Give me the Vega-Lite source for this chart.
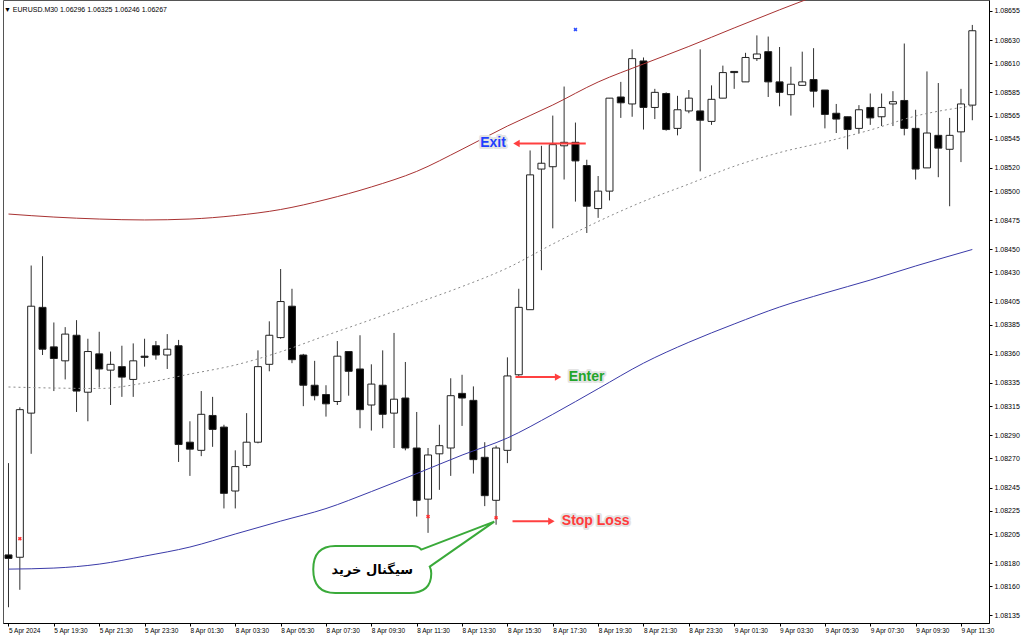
{
  "$schema": "https://vega.github.io/schema/vega-lite/v6.json",
  "width": 986,
  "height": 623,
  "autosize": {"type": "none"},
  "padding": {"left": 3, "top": 0, "right": 35, "bottom": 16},
  "background": "white",
  "config": {
    "view": {"stroke": "#555", "strokeWidth": 1},
    "axis": {"grid": false, "domainColor": "#000", "tickColor": "#000", "labelColor": "#000", "labelFont": "Liberation Sans", "labelOverlap": false, "labelFlush": false, "labelBound": false}
  },
  "title": {
    "text": "▼  EURUSD.M30  1.06296 1.06325 1.06246 1.06267",
    "anchor": "start",
    "frame": "group",
    "offset": -11,
    "baseline": "alphabetic",
    "font": "Liberation Sans",
    "fontSize": 7,
    "fontWeight": "normal",
    "color": "#000",
    "dx": 1,
    "dy": 8
  },
  "datasets": {
    "candles": [
      {"i":0,"o":1.08187,"h":1.08266,"l":1.08142,"c":1.08184},
      {"i":1,"o":1.08185,"h":1.08314,"l":1.08157,"c":1.08312},
      {"i":2,"o":1.08309,"h":1.08436,"l":1.08274,"c":1.08401},
      {"i":3,"o":1.08400,"h":1.08444,"l":1.08359,"c":1.08364},
      {"i":4,"o":1.08366,"h":1.08387,"l":1.08328,"c":1.08356},
      {"i":5,"o":1.08354,"h":1.08383,"l":1.08338,"c":1.08377},
      {"i":6,"o":1.08376,"h":1.08389,"l":1.08310,"c":1.08328},
      {"i":7,"o":1.08327,"h":1.08373,"l":1.08302,"c":1.08362},
      {"i":8,"o":1.08360,"h":1.08379,"l":1.08331,"c":1.08347},
      {"i":9,"o":1.08346,"h":1.08362,"l":1.08316,"c":1.08351},
      {"i":10,"o":1.08349,"h":1.08367,"l":1.08323,"c":1.08340},
      {"i":11,"o":1.08338,"h":1.08369,"l":1.08323,"c":1.08354},
      {"i":12,"o":1.08358,"h":1.08373,"l":1.08349,"c":1.08357},
      {"i":13,"o":1.08367,"h":1.08371,"l":1.08355,"c":1.08359},
      {"i":14,"o":1.08359,"h":1.08377,"l":1.08347,"c":1.08364},
      {"i":15,"o":1.08367,"h":1.08372,"l":1.08267,"c":1.08282},
      {"i":16,"o":1.08284,"h":1.08302,"l":1.08255,"c":1.08278},
      {"i":17,"o":1.08277,"h":1.08328,"l":1.08272,"c":1.08308},
      {"i":18,"o":1.08307,"h":1.08323,"l":1.08280,"c":1.08295},
      {"i":19,"o":1.08297,"h":1.08299,"l":1.08227,"c":1.08240},
      {"i":20,"o":1.08242,"h":1.08277,"l":1.08227,"c":1.08263},
      {"i":21,"o":1.08264,"h":1.08309,"l":1.08262,"c":1.08284},
      {"i":22,"o":1.08284,"h":1.08363,"l":1.08283,"c":1.08349},
      {"i":23,"o":1.08351,"h":1.08388,"l":1.08345,"c":1.08376},
      {"i":24,"o":1.08374,"h":1.08433,"l":1.08373,"c":1.08405},
      {"i":25,"o":1.08401,"h":1.08416,"l":1.08352,"c":1.08355},
      {"i":26,"o":1.08359,"h":1.08360,"l":1.08315,"c":1.08333},
      {"i":27,"o":1.08333,"h":1.08354,"l":1.08320,"c":1.08324},
      {"i":28,"o":1.08325,"h":1.08333,"l":1.08306,"c":1.08317},
      {"i":29,"o":1.08319,"h":1.08371,"l":1.08316,"c":1.08358},
      {"i":30,"o":1.08362,"h":1.08362,"l":1.08324,"c":1.08345},
      {"i":31,"o":1.08347,"h":1.08376,"l":1.08296,"c":1.08312},
      {"i":32,"o":1.08316,"h":1.08351,"l":1.08294,"c":1.08334},
      {"i":33,"o":1.08333,"h":1.08363,"l":1.08296,"c":1.08308},
      {"i":34,"o":1.08309,"h":1.08378,"l":1.08279,"c":1.08321},
      {"i":35,"o":1.08322,"h":1.08353,"l":1.08277,"c":1.08279},
      {"i":36,"o":1.08279,"h":1.08310,"l":1.08220,"c":1.08234},
      {"i":37,"o":1.08235,"h":1.08279,"l":1.08206,"c":1.08273},
      {"i":38,"o":1.08274,"h":1.08299,"l":1.08243,"c":1.08281},
      {"i":39,"o":1.08279,"h":1.08339,"l":1.08255,"c":1.08324},
      {"i":40,"o":1.08326,"h":1.08342,"l":1.08298,"c":1.08322},
      {"i":41,"o":1.08320,"h":1.08332,"l":1.08257,"c":1.08269},
      {"i":42,"o":1.08271,"h":1.08284,"l":1.08229,"c":1.08238},
      {"i":43,"o":1.08234,"h":1.08281,"l":1.08213,"c":1.08279},
      {"i":44,"o":1.08277,"h":1.08357,"l":1.08266,"c":1.08341},
      {"i":45,"o":1.08342,"h":1.08416,"l":1.08341,"c":1.08400},
      {"i":46,"o":1.08398,"h":1.08535,"l":1.08398,"c":1.08514},
      {"i":47,"o":1.08519,"h":1.08539,"l":1.08432,"c":1.08524},
      {"i":48,"o":1.08521,"h":1.08565,"l":1.08468,"c":1.08540},
      {"i":49,"o":1.08539,"h":1.08590,"l":1.08510,"c":1.08542},
      {"i":50,"o":1.08542,"h":1.08559,"l":1.08491,"c":1.08526},
      {"i":51,"o":1.08522,"h":1.08527,"l":1.08464,"c":1.08487},
      {"i":52,"o":1.08485,"h":1.08513,"l":1.08477,"c":1.08500},
      {"i":53,"o":1.08500,"h":1.08580,"l":1.08492,"c":1.08580},
      {"i":54,"o":1.08581,"h":1.08594,"l":1.08563,"c":1.08576},
      {"i":55,"o":1.08575,"h":1.08622,"l":1.08564,"c":1.08614},
      {"i":56,"o":1.08612,"h":1.08615,"l":1.08553,"c":1.08572},
      {"i":57,"o":1.08572,"h":1.08588,"l":1.08562,"c":1.08585},
      {"i":58,"o":1.08584,"h":1.08585,"l":1.08552,"c":1.08553},
      {"i":59,"o":1.08554,"h":1.08582,"l":1.08548,"c":1.08570},
      {"i":60,"o":1.08569,"h":1.08587,"l":1.08567,"c":1.08580},
      {"i":61,"o":1.08569,"h":1.08622,"l":1.08517,"c":1.08561},
      {"i":62,"o":1.08560,"h":1.08591,"l":1.08557,"c":1.08579},
      {"i":63,"o":1.08580,"h":1.08608,"l":1.08580,"c":1.08602},
      {"i":64,"o":1.08603,"h":1.08603,"l":1.08588,"c":1.08602},
      {"i":65,"o":1.08594,"h":1.08619,"l":1.08594,"c":1.08615},
      {"i":66,"o":1.08614,"h":1.08634,"l":1.08612,"c":1.08618},
      {"i":67,"o":1.08620,"h":1.08633,"l":1.08581,"c":1.08594},
      {"i":68,"o":1.08594,"h":1.08624,"l":1.08573,"c":1.08585},
      {"i":69,"o":1.08583,"h":1.08607,"l":1.08565,"c":1.08592},
      {"i":70,"o":1.08591,"h":1.08620,"l":1.08591,"c":1.08594},
      {"i":71,"o":1.08596,"h":1.08623,"l":1.08572,"c":1.08586},
      {"i":72,"o":1.08587,"h":1.08587,"l":1.08554,"c":1.08566},
      {"i":73,"o":1.08567,"h":1.08575,"l":1.08550,"c":1.08562},
      {"i":74,"o":1.08564,"h":1.08564,"l":1.08536,"c":1.08553},
      {"i":75,"o":1.08554,"h":1.08574,"l":1.08550,"c":1.08570},
      {"i":76,"o":1.08572,"h":1.08584,"l":1.08557,"c":1.08563},
      {"i":77,"o":1.08564,"h":1.08584,"l":1.08556,"c":1.08572},
      {"i":78,"o":1.08575,"h":1.08586,"l":1.08556,"c":1.08577},
      {"i":79,"o":1.08578,"h":1.08627,"l":1.08548,"c":1.08554},
      {"i":80,"o":1.08554,"h":1.08570,"l":1.08510,"c":1.08519},
      {"i":81,"o":1.08520,"h":1.08603,"l":1.08520,"c":1.08550},
      {"i":82,"o":1.08548,"h":1.08593,"l":1.08512,"c":1.08537},
      {"i":83,"o":1.08536,"h":1.08563,"l":1.08487,"c":1.08548},
      {"i":84,"o":1.08551,"h":1.08588,"l":1.08525,"c":1.08575},
      {"i":85,"o":1.08574,"h":1.08643,"l":1.08561,"c":1.08638}
    ],
    "upper": [
      {"i":0,"v":1.084803},{"i":4,"v":1.084777},{"i":8,"v":1.084760},{"i":12,"v":1.084752},
      {"i":16,"v":1.084760},{"i":20,"v":1.084790},{"i":24,"v":1.084842},{"i":28,"v":1.084928},
      {"i":32,"v":1.085036},{"i":36,"v":1.085170},{"i":40,"v":1.085360},{"i":44,"v":1.085560},
      {"i":48,"v":1.085741},{"i":52,"v":1.085939},{"i":56,"v":1.086094},{"i":60,"v":1.086245},
      {"i":64,"v":1.086404},{"i":68,"v":1.086560},{"i":72,"v":1.086710}
    ],
    "mid": [
      {"i":0,"v":1.083315},{"i":4,"v":1.083306},{"i":8,"v":1.083302},{"i":12,"v":1.083349},
      {"i":16,"v":1.083426},{"i":20,"v":1.083504},{"i":24,"v":1.083618},{"i":28,"v":1.083758},
      {"i":32,"v":1.083895},{"i":36,"v":1.084037},{"i":40,"v":1.084179},{"i":44,"v":1.084339},
      {"i":48,"v":1.084545},{"i":52,"v":1.084739},{"i":56,"v":1.084912},{"i":60,"v":1.085061},
      {"i":64,"v":1.085214},{"i":68,"v":1.085332},{"i":72,"v":1.085423},{"i":76,"v":1.085526},
      {"i":80,"v":1.085646},{"i":85,"v":1.085733}
    ],
    "lower": [
      {"i":0,"v":1.081748},{"i":4,"v":1.081757},{"i":8,"v":1.081791},{"i":12,"v":1.081860},
      {"i":16,"v":1.081938},{"i":20,"v":1.082050},{"i":24,"v":1.082161},{"i":28,"v":1.082269},
      {"i":32,"v":1.082415},{"i":36,"v":1.082570},{"i":40,"v":1.082729},{"i":44,"v":1.082876},
      {"i":48,"v":1.083080},{"i":52,"v":1.083300},{"i":56,"v":1.083520},{"i":60,"v":1.083700},
      {"i":64,"v":1.083857},{"i":68,"v":1.084003},{"i":72,"v":1.084123},{"i":76,"v":1.084235},
      {"i":80,"v":1.084356},{"i":85,"v":1.084498}
    ],
    "marks": [
      {"i":1,"v":1.08201,"kind":"sell"},
      {"i":37,"v":1.08220,"kind":"sell"},
      {"i":43,"v":1.08219,"kind":"sell"},
      {"i":50,"v":1.08639,"kind":"buy"}
    ],
    "arrows": [
      {"name":"Exit","from":50.91,"to":44.45,"head":44.8,"v":1.08541,"labelAt":42.73},
      {"name":"Enter","from":44.71,"to":48.82,"head":48.47,"v":1.08340,"labelAt":50.98},
      {"name":"Stop Loss","from":44.45,"to":48.23,"head":47.88,"v":1.08216,"labelAt":51.78}
    ],
    "bubble": [
      {"i":32.08,"v":1.081744,"text":"سیگنال خرید"}
    ]
  },
  "layer": [
    {
      "data": {"name": "candles"},
      "mark": {"type": "rule", "color": "#303030", "strokeWidth": 1, "clip": true},
      "encoding": {
        "x": {"field": "i", "type": "quantitative", "title": null,
          "scale": {"domain": [-0.044, 86.03], "nice": false, "zero": false},
          "axis": {
            "orient": "bottom",
            "title": null,
            "grid": false,
            "tickCount": 60,
            "values": [0,4,8,12,16,20,24,28,32,36,40,44,48,52,56,60,64,68,72,76,80,84],
            "labelExpr": "['5 Apr 2024','5 Apr 19:30','5 Apr 21:30','5 Apr 23:30','8 Apr 01:30','8 Apr 03:30','8 Apr 05:30','8 Apr 07:30','8 Apr 09:30','8 Apr 11:30','8 Apr 13:30','8 Apr 15:30','8 Apr 17:30','8 Apr 19:30','8 Apr 21:30','8 Apr 23:30','9 Apr 01:30','9 Apr 03:30','9 Apr 05:30','9 Apr 07:30','9 Apr 09:30','9 Apr 11:30'][round(datum.value/4)]",
            "labelAlign": "left",
            "labelFontSize": 6.5,
            "labelPadding": 1,
            "tickSize": 3,
            "labelOverlap": false,
            "labelFlush": false,
            "labelBound": false
          }},
        "y": {"field": "l", "type": "quantitative", "title": null,
          "scale": {"domain": [1.0812844, 1.0866445], "nice": false, "zero": false},
          "axis": {
            "orient": "right",
            "title": null,
            "grid": false,
            "tickCount": 60,
            "values": [1.08655,1.08630,1.08610,1.08585,1.08565,1.08545,1.08520,1.08500,1.08475,1.08450,1.08430,1.08405,1.08385,1.08360,1.08335,1.08315,1.08290,1.08270,1.08245,1.08225,1.08205,1.08180,1.08160,1.08135],
            "format": ".5f",
            "labelFontSize": 7,
            "labelPadding": 2,
            "tickSize": 3,
            "labelOverlap": false,
            "labelFlush": false,
            "labelBound": false
          }},
        "y2": {"field": "h"}
      }
    },
    {
      "data": {"name": "candles"},
      "mark": {"type": "bar", "width": 7, "stroke": "#222", "strokeWidth": 1, "clip": true},
      "encoding": {
        "x": {"field": "i", "type": "quantitative", "title": null, "scale": {"domain": [-0.044, 86.03], "nice": false, "zero": false}},
        "y": {"field": "o", "type": "quantitative", "title": null, "scale": {"domain": [1.0812844, 1.0866445], "nice": false, "zero": false}},
        "y2": {"field": "c"},
        "fill": {"condition": {"test": "datum.c < datum.o", "value": "#000000"}, "value": "#ffffff"}
      }
    },
    {
      "data": {"name": "upper"},
      "mark": {"type": "line", "color": "#a83232", "strokeWidth": 1, "interpolate": "monotone", "clip": true},
      "encoding": {
        "x": {"field": "i", "type": "quantitative", "title": null, "scale": {"domain": [-0.044, 86.03], "nice": false, "zero": false}},
        "y": {"field": "v", "type": "quantitative", "title": null, "scale": {"domain": [1.0812844, 1.0866445], "nice": false, "zero": false}}
      }
    },
    {
      "data": {"name": "mid"},
      "mark": {"type": "line", "color": "#8a8a8a", "strokeWidth": 1, "strokeDash": [2, 3], "interpolate": "monotone", "clip": true},
      "encoding": {
        "x": {"field": "i", "type": "quantitative", "title": null, "scale": {"domain": [-0.044, 86.03], "nice": false, "zero": false}},
        "y": {"field": "v", "type": "quantitative", "title": null, "scale": {"domain": [1.0812844, 1.0866445], "nice": false, "zero": false}}
      }
    },
    {
      "data": {"name": "lower"},
      "mark": {"type": "line", "color": "#3a3aa8", "strokeWidth": 1, "interpolate": "monotone", "clip": true},
      "encoding": {
        "x": {"field": "i", "type": "quantitative", "title": null, "scale": {"domain": [-0.044, 86.03], "nice": false, "zero": false}},
        "y": {"field": "v", "type": "quantitative", "title": null, "scale": {"domain": [1.0812844, 1.0866445], "nice": false, "zero": false}}
      }
    },
    {
      "data": {"name": "marks"},
      "mark": {"type": "point", "shape": "cross", "angle": 45, "filled": true, "size": 16, "opacity": 1},
      "encoding": {
        "x": {"field": "i", "type": "quantitative", "title": null, "scale": {"domain": [-0.044, 86.03], "nice": false, "zero": false}},
        "y": {"field": "v", "type": "quantitative", "title": null, "scale": {"domain": [1.0812844, 1.0866445], "nice": false, "zero": false}},
        "fill": {"condition": {"test": "datum.kind === 'buy'", "value": "#3050ff"}, "value": "#ff3030"}
      }
    },
    {
      "data": {"name": "arrows"},
      "mark": {"type": "rule", "color": "#ff4040", "strokeWidth": 2},
      "encoding": {
        "x": {"field": "from", "type": "quantitative", "title": null, "scale": {"domain": [-0.044, 86.03], "nice": false, "zero": false}},
        "x2": {"field": "head"},
        "y": {"field": "v", "type": "quantitative", "title": null, "scale": {"domain": [1.0812844, 1.0866445], "nice": false, "zero": false}}
      }
    },
    {
      "data": {"name": "arrows"},
      "mark": {"type": "point", "filled": true, "size": 55, "color": "#ff4040", "opacity": 1},
      "encoding": {
        "x": {"field": "head", "type": "quantitative", "title": null, "scale": {"domain": [-0.044, 86.03], "nice": false, "zero": false}},
        "y": {"field": "v", "type": "quantitative", "title": null, "scale": {"domain": [1.0812844, 1.0866445], "nice": false, "zero": false}},
        "shape": {"condition": {"test": "datum.to < datum.from", "value": "triangle-left"}, "value": "triangle-right"}
      }
    },
    {
      "data": {"name": "arrows"},
      "mark": {"type": "text", "font": "Liberation Sans", "fontSize": 14, "fontWeight": "bold", "align": "center", "baseline": "middle", "fill": "#dcdcdc", "stroke": "#e4e4e4", "strokeWidth": 4, "strokeJoin": "round"},
      "encoding": {
        "x": {"field": "labelAt", "type": "quantitative", "title": null, "scale": {"domain": [-0.044, 86.03], "nice": false, "zero": false}},
        "y": {"field": "v", "type": "quantitative", "title": null, "scale": {"domain": [1.0812844, 1.0866445], "nice": false, "zero": false}},
        "text": {"field": "name"}
      }
    },
    {
      "data": {"name": "arrows"},
      "mark": {"type": "text", "font": "Liberation Sans", "fontSize": 14, "fontWeight": "bold", "align": "center", "baseline": "middle"},
      "encoding": {
        "x": {"field": "labelAt", "type": "quantitative", "title": null, "scale": {"domain": [-0.044, 86.03], "nice": false, "zero": false}},
        "y": {"field": "v", "type": "quantitative", "title": null, "scale": {"domain": [1.0812844, 1.0866445], "nice": false, "zero": false}},
        "text": {"field": "name"},
        "color": {"field": "name", "type": "nominal", "scale": {"domain": ["Exit", "Enter", "Stop Loss"], "range": ["#1f3fff", "#22a52a", "#ff3b3b"]}, "legend": null}
      }
    },
    {
      "data": {"name": "bubble"},
      "mark": {
        "type": "point",
        "shape": "M -0.37 -0.235 L 0.40 -0.235 Q 0.46 -0.235 0.49 -0.2 L 1.22 -0.48 L 0.575 -0.03 Q 0.59 0 0.59 0.04 Q 0.59 0.235 0.37 0.235 L -0.37 0.235 Q -0.59 0.235 -0.59 0 Q -0.59 -0.235 -0.37 -0.235 Z",
        "size": 40000,
        "filled": true,
        "fill": "#ffffff",
        "stroke": "#3aaa3a",
        "strokeWidth": 2,
        "opacity": 1,
        "fillOpacity": 1
      },
      "encoding": {
        "x": {"field": "i", "type": "quantitative", "title": null, "scale": {"domain": [-0.044, 86.03], "nice": false, "zero": false}},
        "y": {"field": "v", "type": "quantitative", "title": null, "scale": {"domain": [1.0812844, 1.0866445], "nice": false, "zero": false}}
      }
    },
    {
      "data": {"name": "bubble"},
      "mark": {"type": "text", "font": "DejaVu Sans", "fontSize": 13, "fontWeight": "bold", "align": "center", "baseline": "middle", "color": "#000"},
      "encoding": {
        "x": {"field": "i", "type": "quantitative", "title": null, "scale": {"domain": [-0.044, 86.03], "nice": false, "zero": false}},
        "y": {"field": "v", "type": "quantitative", "title": null, "scale": {"domain": [1.0812844, 1.0866445], "nice": false, "zero": false}},
        "text": {"field": "text"}
      }
    }
  ]
}
